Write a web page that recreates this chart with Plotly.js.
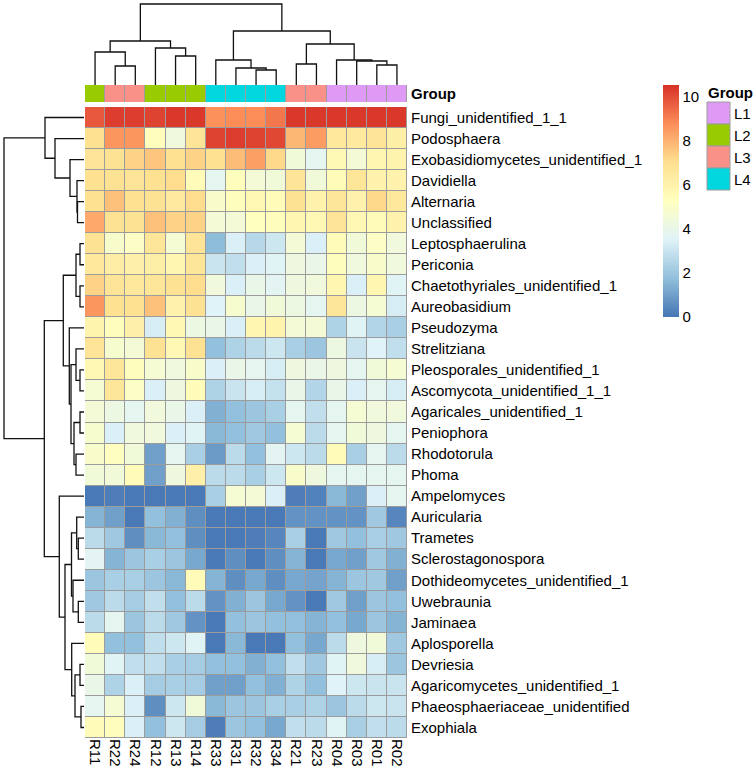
<!DOCTYPE html>
<html>
<head>
<meta charset="utf-8">
<script src="https://cdn.plot.ly/plotly-3.0.1.min.js"></script>
<style>
  body { margin: 0; background: #fff; }
  #heatmap { width: 756px; height: 770px; }
</style>
</head>
<body>
<div id="heatmap"></div>
<script>
'use strict';

// samples in dendrogram order
const samples = ['R11', 'R22', 'R24', 'R12', 'R13', 'R14', 'R33', 'R31',
                 'R32', 'R34', 'R21', 'R23', 'R04', 'R03', 'R01', 'R02'];
const sampleGroups = ['L2', 'L3', 'L3', 'L2', 'L2', 'L2', 'L4', 'L4',
                      'L4', 'L4', 'L3', 'L3', 'L1', 'L1', 'L1', 'L1'];
const groupNames = ['L1', 'L2', 'L3', 'L4'];
const groupColors = ['#DF9AF6', '#99CC00', '#F99189', '#00D7DE'];

const taxa = [
    'Fungi_unidentified_1_1', 'Podosphaera', 'Exobasidiomycetes_unidentified_1',
    'Davidiella', 'Alternaria', 'Unclassified', 'Leptosphaerulina', 'Periconia',
    'Chaetothyriales_unidentified_1', 'Aureobasidium', 'Pseudozyma', 'Strelitziana',
    'Pleosporales_unidentified_1', 'Ascomycota_unidentified_1_1', 'Agaricales_unidentified_1',
    'Peniophora', 'Rhodotorula', 'Phoma', 'Ampelomyces', 'Auricularia', 'Trametes',
    'Sclerostagonospora', 'Dothideomycetes_unidentified_1', 'Uwebraunia', 'Jaminaea',
    'Aplosporella', 'Devriesia', 'Agaricomycetes_unidentified_1',
    'Phaeosphaeriaceae_unidentified', 'Exophiala'
];

// log-scaled abundance, one row per taxon, columns follow `samples`
const abundance = [
    [9.8, 10.3, 10.3, 10.2, 10.4, 10.4, 8.7, 8.8, 8.8, 9.2, 10.4, 10.4, 10.4, 10.4, 10.4, 10.4],
    [7.0, 8.6, 8.6, 5.4, 4.4, 6.8, 10.2, 10.3, 10.2, 10.1, 7.9, 8.5, 6.6, 6.5, 6.8, 6.2],
    [6.8, 6.9, 7.3, 7.6, 7.0, 7.3, 7.0, 7.8, 8.4, 7.2, 4.5, 3.8, 5.6, 4.6, 5.8, 5.9],
    [7.0, 6.9, 6.8, 7.0, 7.1, 5.5, 3.8, 5.4, 4.6, 4.5, 6.8, 4.5, 5.5, 6.7, 6.0, 6.0],
    [7.0, 7.7, 7.0, 6.9, 6.5, 7.1, 4.9, 5.4, 5.7, 5.5, 6.9, 6.0, 6.7, 6.0, 7.2, 6.6],
    [8.2, 6.9, 6.9, 7.7, 7.3, 7.3, 4.6, 4.6, 5.3, 5.4, 5.8, 5.7, 6.8, 5.7, 5.5, 6.0],
    [6.9, 4.9, 5.1, 6.7, 4.7, 6.8, 1.7, 3.4, 2.6, 3.1, 4.6, 3.4, 5.5, 4.5, 5.1, 4.4],
    [6.6, 6.3, 6.1, 6.2, 5.8, 6.7, 3.0, 2.8, 3.4, 3.6, 4.3, 4.0, 5.4, 4.4, 4.9, 4.4],
    [7.3, 6.8, 6.6, 6.7, 6.9, 7.1, 4.4, 3.4, 4.0, 3.7, 4.3, 4.4, 5.8, 3.4, 5.8, 3.6],
    [8.6, 7.0, 7.0, 7.7, 6.0, 6.9, 3.5, 4.8, 4.0, 4.5, 4.2, 3.8, 6.7, 4.2, 4.7, 3.3],
    [5.9, 5.4, 6.1, 3.3, 5.7, 4.2, 4.0, 3.4, 5.8, 5.9, 4.6, 4.6, 2.4, 3.6, 2.5, 2.3],
    [6.8, 4.8, 4.6, 6.9, 5.7, 6.9, 1.8, 2.4, 2.7, 3.1, 2.3, 2.0, 4.2, 3.0, 3.5, 2.8],
    [5.7, 6.7, 5.4, 4.7, 4.4, 4.9, 3.4, 4.0, 3.8, 3.3, 4.3, 4.0, 4.3, 3.8, 4.5, 4.7],
    [4.7, 6.7, 5.1, 3.4, 4.3, 5.5, 2.4, 3.0, 3.3, 2.9, 4.0, 2.5, 4.0, 3.4, 3.8, 3.3],
    [4.6, 4.2, 3.8, 4.4, 4.0, 3.4, 1.4, 1.8, 2.0, 2.3, 3.8, 2.8, 3.8, 4.7, 4.4, 4.4],
    [4.8, 3.4, 4.4, 4.4, 3.4, 3.6, 1.6, 1.8, 2.1, 1.8, 4.7, 2.7, 3.8, 4.5, 4.3, 3.8],
    [4.9, 5.2, 4.5, 1.0, 3.8, 2.3, 0.9, 2.7, 1.8, 3.7, 3.1, 2.7, 5.5, 2.3, 3.8, 2.7],
    [4.5, 4.5, 5.5, 1.0, 4.3, 6.1, 2.7, 2.7, 2.3, 3.1, 4.9, 4.3, 3.8, 3.8, 3.8, 3.8],
    [0.1, 0.2, 0.1, 0.1, 0.1, 0.1, 2.3, 4.7, 4.6, 3.4, 0.2, 0.3, 1.6, 1.0, 3.4, 3.8],
    [1.5, 1.0, 0.1, 1.8, 1.4, 0.6, 0.1, 0.1, 0.1, 0.1, 0.7, 0.7, 0.7, 0.7, 2.1, 0.4],
    [2.7, 2.1, 0.6, 1.6, 1.8, 0.6, 0.1, 0.1, 0.2, 0.4, 2.3, 0.1, 2.1, 1.8, 2.3, 2.1],
    [3.7, 1.5, 2.0, 2.3, 2.0, 1.2, 0.1, 0.6, 0.1, 0.6, 1.5, 0.1, 1.2, 1.0, 2.1, 1.4],
    [2.0, 2.3, 2.3, 2.0, 1.6, 5.5, 1.5, 0.6, 1.2, 0.6, 1.2, 1.1, 1.5, 2.0, 2.1, 1.0],
    [2.1, 2.7, 2.2, 2.8, 1.8, 2.7, 0.7, 1.4, 2.0, 1.2, 0.7, 0.1, 2.1, 1.0, 2.0, 1.8],
    [2.7, 3.8, 2.0, 2.7, 2.1, 0.7, 0.1, 1.8, 2.0, 1.8, 1.8, 1.5, 1.8, 1.2, 2.0, 1.5],
    [5.5, 1.8, 1.8, 2.8, 3.1, 3.6, 0.1, 1.6, 0.1, 0.1, 1.8, 1.2, 2.7, 4.3, 4.5, 2.1],
    [4.5, 3.6, 2.8, 2.8, 2.3, 2.2, 1.8, 1.8, 1.4, 1.8, 2.8, 2.1, 3.6, 4.4, 3.3, 2.0],
    [4.0, 2.4, 3.4, 2.2, 2.3, 2.2, 1.0, 1.0, 1.8, 1.4, 2.4, 1.8, 3.5, 3.1, 3.0, 3.0],
    [3.8, 4.7, 3.4, 0.6, 3.1, 4.5, 1.6, 2.0, 2.0, 2.3, 2.3, 2.4, 2.0, 2.7, 3.1, 3.0],
    [5.5, 5.4, 3.4, 1.8, 3.1, 2.2, 0.2, 2.0, 1.8, 1.2, 2.8, 2.7, 3.6, 2.3, 2.8, 2.7]
];

// hclust-style merges: negative = leaf (1-based display position), positive = earlier merge
const colMerges = [
    [-2, -3, 19], [-5, -6, 29], [-1, 1, 33], [-4, 2, 37], [3, 4, 44],
    [-9, -10, 15], [-8, 6, 17], [-7, 7, 25], [-11, -12, 21], [-15, -16, 20],
    [-14, 10, 24], [-13, 11, 25], [9, 12, 41], [8, 13, 54], [5, 14, 81]
];
const rowMerges = [
    [-5, -6, 6.5], [-4, 1, 7], [-3, 2, 14], [-2, 3, 29], [-1, 4, 39],
    [-7, -8, 4], [-9, -10, 4], [6, 7, 8], [-13, -14, 4], [-12, 9, 8],
    [-15, -16, 4], [-17, -18, 8], [11, 12, 10], [10, 13, 13], [-11, 14, 14.7],
    [8, 15, 20.7], [-21, -22, 5.7], [-20, 17, 7.3], [-24, -25, 5.7], [-23, 19, 11],
    [18, 20, 12.5], [-27, -28, 4], [-29, -30, 3], [22, 23, 9], [-26, 24, 12.3],
    [21, 25, 19], [-19, 26, 24.7], [16, 27, 39.7], [5, 28, 80]
];

const W = 756, H = 770;
const px = v => v / W;
const py = v => 1 - v / H;
const font = 'Liberation Sans, Arial, Helvetica, sans-serif';
const fsize = 15;
const gridGrey = '#9c9c9c';

// walk the merges and return the elbow segments (pos, height)
function dendroSegments(merges) {
    const nodePos = [], nodeH = [];
    const pos = [], hgt = [];
    const get = id => id < 0 ? [-id - 1, 0] : [nodePos[id - 1], nodeH[id - 1]];
    merges.forEach(([a, b, h]) => {
        const [pa, ha] = get(a);
        const [pb, hb] = get(b);
        pos.push(pa, pa, pb, pb, null);
        hgt.push(ha, h, h, hb, null);
        nodePos.push((pa + pb) / 2);
        nodeH.push(h);
    });
    return {pos, hgt};
}

const colTree = dendroSegments(colMerges);
const rowTree = dendroSegments(rowMerges);

const colIdx = samples.map((s, i) => i);
const rowIdx = taxa.map((t, i) => i);

const rdylbu = ['#4575B4', '#91BFDB', '#E0F3F8', '#FFFFBF', '#FEE090', '#FC8D59', '#D73027'];
const colorscale = rdylbu.map((c, i) => [i / (rdylbu.length - 1), c]);

const groupScale = [];
groupColors.forEach((c, i) => {
    groupScale.push([i / groupColors.length, c], [(i + 1) / groupColors.length, c]);
});

const txt = {family: font, size: fsize, color: '#000'};

const heat = {
    type: 'heatmap',
    x: colIdx,
    y: rowIdx,
    z: abundance,
    zmin: 0,
    zmax: 10.55,
    colorscale: colorscale,
    xgap: 1,
    ygap: 1,
    hoverinfo: 'skip',
    colorbar: {
        x: px(663), xanchor: 'left', xpad: 0,
        y: py(85), yanchor: 'top', ypad: 0,
        lenmode: 'pixels', len: 232,
        thicknessmode: 'pixels', thickness: 16,
        outlinewidth: 0,
        tickvals: [0, 2, 4, 6, 8, 10],
        ticks: '',
        tickfont: txt
    }
};

const groupBar = {
    type: 'heatmap',
    x: colIdx,
    y: [0],
    z: [sampleGroups.map(g => groupNames.indexOf(g))],
    zmin: 0,
    zmax: groupNames.length - 1,
    colorscale: groupScale,
    showscale: false,
    xgap: 1,
    hoverinfo: 'skip',
    xaxis: 'x',
    yaxis: 'y2'
};

const colDendro = {
    type: 'scatter', mode: 'lines',
    x: colTree.pos, y: colTree.hgt,
    xaxis: 'x3', yaxis: 'y3',
    line: {color: '#111', width: 1.3},
    hoverinfo: 'skip', showlegend: false
};

const rowDendro = {
    type: 'scatter', mode: 'lines',
    x: rowTree.hgt, y: rowTree.pos,
    xaxis: 'x2', yaxis: 'y4',
    line: {color: '#111', width: 1.3},
    hoverinfo: 'skip', showlegend: false
};

const hidden = {visible: false, showgrid: false, zeroline: false};

const shapes = [
    {type: 'rect', xref: 'x', yref: 'y', x0: -0.5, x1: 15.5, y0: -0.5, y1: 29.5,
     fillcolor: gridGrey, line: {color: gridGrey, width: 1}, layer: 'below'},
    {type: 'rect', xref: 'x', yref: 'y2', x0: -0.5, x1: 15.5, y0: -0.5, y1: 0.5,
     fillcolor: gridGrey, line: {color: gridGrey, width: 1}, layer: 'below'}
];
const annotations = [
    {xref: 'paper', yref: 'paper', x: px(706), y: py(92), xanchor: 'left', yanchor: 'middle',
     text: '<b>Group</b>', showarrow: false, font: txt}
];
groupNames.forEach((g, i) => {
    const top = 102 + i * 22;
    shapes.push({type: 'rect', xref: 'paper', yref: 'paper',
        x0: px(707), x1: px(730), y0: py(top + 22), y1: py(top),
        fillcolor: groupColors[i], line: {color: gridGrey, width: 1}});
    annotations.push({xref: 'paper', yref: 'paper', x: px(732), y: py(top + 11),
        xanchor: 'left', yanchor: 'middle', text: g, showarrow: false, font: txt});
});

const layout = {
    width: W, height: H,
    margin: {l: 0, r: 0, t: 0, b: 0},
    paper_bgcolor: '#fff', plot_bgcolor: 'rgba(0,0,0,0)',
    showlegend: false,
    font: txt,
    xaxis: {
        domain: [px(85), px(407)], range: [-0.5, 15.5], anchor: 'y',
        tickvals: colIdx, ticktext: samples, tickangle: 90, ticks: '',
        showgrid: false, zeroline: false, showline: false,
        tickfont: txt
    },
    yaxis: {
        domain: [py(738), py(107)], range: [29.5, -0.5], anchor: 'x', side: 'right',
        tickvals: rowIdx, ticktext: taxa, ticks: '', ticklabelstandoff: 3,
        showgrid: false, zeroline: false, showline: false,
        tickfont: txt
    },
    yaxis2: {
        domain: [py(102), py(85)], range: [-0.5, 0.5], anchor: 'x', side: 'right',
        tickvals: [0], ticktext: ['<b>Group</b>'], ticks: '', ticklabelstandoff: 3,
        showgrid: false, zeroline: false, showline: false,
        tickfont: txt
    },
    xaxis2: Object.assign({domain: [px(2), px(84)], range: [82, 0], anchor: 'y4'}, hidden),
    yaxis4: Object.assign({domain: [py(738), py(107)], range: [29.5, -0.5], anchor: 'x2'}, hidden),
    xaxis3: Object.assign({domain: [px(85), px(407)], range: [-0.5, 15.5], anchor: 'y3'}, hidden),
    yaxis3: Object.assign({domain: [py(85), py(3)], range: [0, 82], anchor: 'x3'}, hidden),
    shapes: shapes,
    annotations: annotations
};

Plotly.newPlot('heatmap', [heat, groupBar, colDendro, rowDendro], layout,
    {staticPlot: true, displayModeBar: false});
</script>
</body>
</html>
